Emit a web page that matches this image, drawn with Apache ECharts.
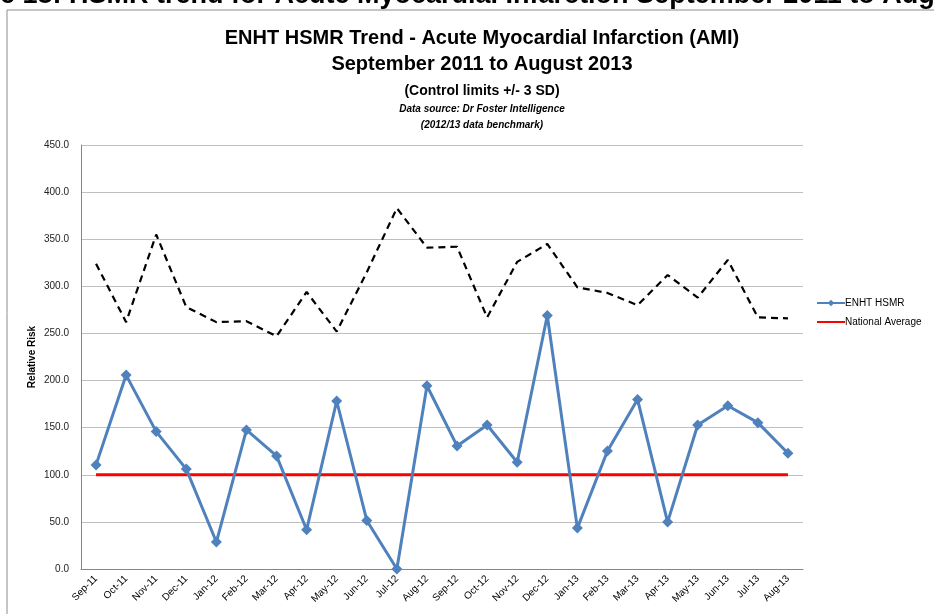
<!DOCTYPE html>
<html>
<head>
<meta charset="utf-8">
<script src="https://cdn.jsdelivr.net/npm/echarts@6/dist/echarts.min.js"></script>
<style>
  html, body { margin: 0; padding: 0; background: #fff; }
  #chart { width: 934px; height: 614px; }
</style>
</head>
<body>
<div id="chart"></div>
<script>
// ---- data ----
const categories = ['Sep-11','Oct-11','Nov-11','Dec-11','Jan-12','Feb-12','Mar-12','Apr-12','May-12','Jun-12','Jul-12','Aug-12',
                    'Sep-12','Oct-12','Nov-12','Dec-12','Jan-13','Feb-13','Mar-13','Apr-13','May-13','Jun-13','Jul-13','Aug-13'];
const hsmr = [110.5, 205.8, 145.8, 106.0, 28.6, 147.6, 120.0, 41.6, 178.3, 51.5, 0.0, 194.5,
              130.6, 152.8, 113.3, 269.0, 43.4, 125.3, 180.0, 49.8, 152.8, 173.3, 155.3, 122.8];
const upperLimit = [324, 262, 355, 278, 262, 263, 247, 294, 252, 315, 383, 341,
                    342, 267, 326, 345, 299, 293, 280, 312, 288, 328, 267, 266];
const nationalAverage = [100,100,100,100,100,100,100,100,100,100,100,100,
                         100,100,100,100,100,100,100,100,100,100,100,100];
const yTicks = { min: 0, max: 450, interval: 50 };

const FONT = "'Liberation Sans Narrow', 'Liberation Sans', Arial, sans-serif";
const headerText = 'Figure 18: HSMR trend for Acute Myocardial Infarction September 2011 to August 2013';
const headerFont = 'bold 27px ' + FONT;
const mctx = document.createElement('canvas').getContext('2d');
mctx.font = headerFont;
const headerShift = mctx.measureText('Figur').width;

const chart = echarts.init(document.getElementById('chart'), null, { renderer: 'canvas' });
chart.setOption({
  animation: false,
  backgroundColor: '#ffffff',
  textStyle: { fontFamily: FONT },
  title: [
    { text: 'ENHT HSMR Trend - Acute Myocardial Infarction (AMI)', left: 477, top: 23, textAlign: 'center',
      textStyle: { fontSize: 20, fontWeight: 'bold', color: '#000', fontFamily: FONT } },
    { text: 'September 2011 to August 2013', left: 477, top: 49, textAlign: 'center',
      textStyle: { fontSize: 20, fontWeight: 'bold', color: '#000', fontFamily: FONT } },
    { text: '(Control limits +/- 3 SD)', left: 477, top: 79, textAlign: 'center',
      textStyle: { fontSize: 14, fontWeight: 'bold', color: '#000', fontFamily: FONT } },
    { text: 'Data source: Dr Foster Intelligence', left: 477, top: 99, textAlign: 'center',
      textStyle: { fontSize: 10, fontWeight: 'bold', fontStyle: 'italic', color: '#000', fontFamily: FONT } },
    { text: '(2012/13 data benchmark)', left: 477, top: 115, textAlign: 'center',
      textStyle: { fontSize: 10, fontWeight: 'bold', fontStyle: 'italic', color: '#000', fontFamily: FONT } }
  ],
  graphic: [
    { type: 'rect', shape: { x: 7, y: 10, width: 1000, height: 700 }, silent: true,
      style: { fill: 'none', stroke: '#8c8c8c', lineWidth: 1 } },
    { type: 'text', x: -headerShift, y: 9, silent: true,
      style: { text: headerText, font: headerFont, fill: '#000', align: 'left', verticalAlign: 'bottom' } }
  ],
  legend: {
    orient: 'vertical', left: 811, top: 293, itemGap: 9,
    itemWidth: 28, itemHeight: 8,
    data: [
      { name: 'ENHT HSMR' },
      { name: 'National Average', itemStyle: { opacity: 0 } }
    ],
    textStyle: { fontSize: 10, color: '#000', fontFamily: FONT, padding: [0, 0, 0, -5] }
  },
  grid: { left: 81, right: 131, top: 145, bottom: 45, containLabel: false },
  xAxis: {
    type: 'category', data: categories, boundaryGap: true,
    axisLine: { lineStyle: { color: '#868686', width: 1 } },
    axisTick: { show: false },
    axisLabel: { rotate: 45, fontSize: 10, color: '#000', interval: 0, margin: 8, fontFamily: FONT }
  },
  yAxis: {
    type: 'value', min: yTicks.min, max: yTicks.max, interval: yTicks.interval,
    name: 'Relative Risk', nameLocation: 'middle', nameGap: 44, nameRotate: 90,
    nameMoveOverlap: false,
    nameTextStyle: { fontSize: 10, fontWeight: 'bold', color: '#000', fontFamily: FONT },
    axisLine: { show: true, lineStyle: { color: '#868686', width: 1 } },
    axisTick: { show: false },
    splitLine: { lineStyle: { color: '#bfbfbf', width: 1 } },
    axisLabel: { fontSize: 10, color: '#222', margin: 12, fontFamily: FONT,
                 formatter: v => v.toFixed(1) }
  },
  series: [
    { name: 'Upper Control Limit', type: 'line', data: upperLimit, symbol: 'none',
      lineStyle: { color: '#000', width: 2.2, type: [7, 5] }, z: 2 },
    { name: 'ENHT HSMR', type: 'line', data: hsmr, symbol: 'diamond', symbolSize: 11,
      itemStyle: { color: '#4f81bd' }, lineStyle: { color: '#4f81bd', width: 3 }, z: 4 },
    { name: 'National Average', type: 'line', data: nationalAverage, symbol: 'none',
      itemStyle: { color: '#ff0000' }, lineStyle: { color: '#ff0000', width: 3 }, z: 3 }
  ]
});
</script>
</body>
</html>
